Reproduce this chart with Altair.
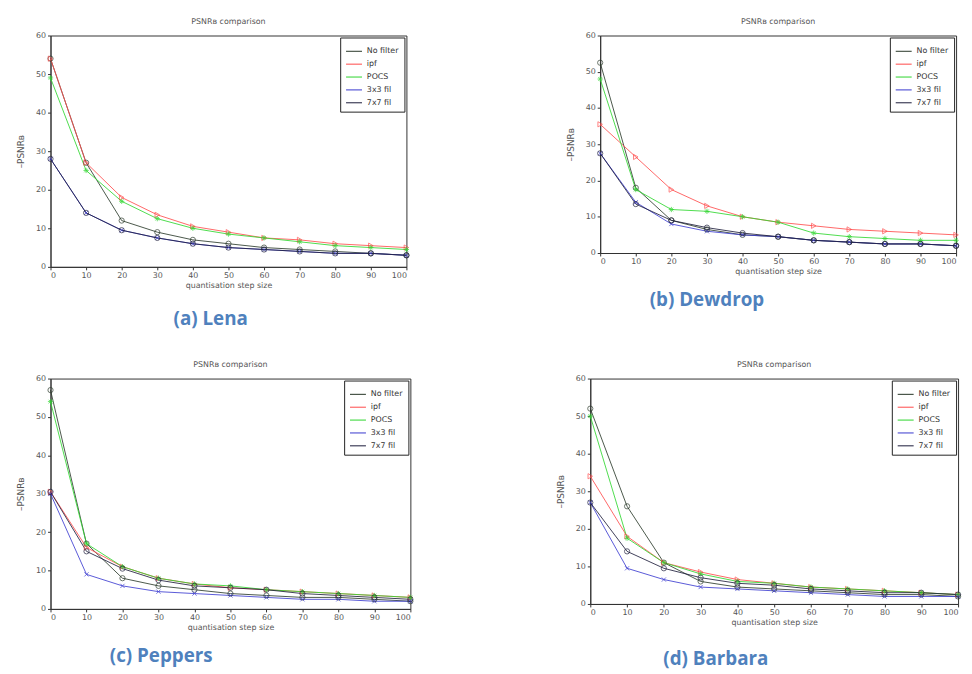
import altair as alt
import pandas as pd

steps = [0, 10, 20, 30, 40, 50, 60, 70, 80, 90, 100]
series_names = ["No filter", "ipf", "POCS", "3x3 fil", "7x7 fil"]
series_colors = ["#2b3a2b", "#ff4c4c", "#2fd62f", "#3b3bd0", "#1e1e3c"]
series_shapes = ["circle", "triangle-right", "M-1,0L1,0M0,-1L0,1M-0.7,-0.7L0.7,0.7M-0.7,0.7L0.7,-0.7",
                 "M-0.8,-0.8L0.8,0.8M-0.8,0.8L0.8,-0.8", "circle"]

# (a) Lena
lena_nofilter = [54, 27, 12, 9, 7, 6, 5, 4.5, 4, 3.5, 3]
lena_ipf = [54, 27, 18, 13.5, 10.5, 9, 7.5, 7, 6, 5.5, 5]
lena_pocs = [49, 25, 17, 12.5, 10, 8.5, 7.5, 6.5, 5.5, 5, 4.5]
lena_3x3 = [28, 14, 9.5, 7.5, 6, 5, 4.5, 4, 3.5, 3.5, 3]
lena_7x7 = [28, 14, 9.5, 7.5, 6, 5, 4.5, 4, 3.5, 3.5, 3]

# (b) Dewdrop
dew_nofilter = [52.5, 18, 9, 6.5, 5, 4.5, 3.5, 3, 2.5, 2.5, 2]
dew_ipf = [35.5, 26.5, 17.5, 13, 10, 8.5, 7.5, 6.5, 6, 5.5, 5]
dew_pocs = [48, 17.5, 12, 11.5, 10, 8.5, 5.5, 4.5, 4, 3.5, 3.5]
dew_3x3 = [27.5, 14, 8, 6, 5, 4.5, 3.5, 3, 2.5, 2.5, 2]
dew_7x7 = [27.5, 13.5, 9, 7, 5.5, 4.5, 3.5, 3, 2.5, 2.5, 2]

# (c) Peppers
pep_nofilter = [57, 17, 8, 6, 5, 4, 3.5, 3, 3, 2.5, 2]
pep_ipf = [30.5, 16, 11, 8, 6.5, 5.5, 5, 4.5, 4, 3.5, 3]
pep_pocs = [54, 17, 11, 8, 6.5, 6, 5, 4.5, 4, 3.5, 3]
pep_3x3 = [30, 9, 6, 4.5, 4, 3.5, 3, 2.5, 2.5, 2, 2]
pep_7x7 = [30.5, 15, 10.5, 7.5, 6, 5.5, 5, 4, 3.5, 3, 2.5]

# (d) Barbara
bar_nofilter = [52, 26, 11, 6, 4.5, 4, 3.5, 3, 2.5, 2.5, 2]
bar_ipf = [34, 18, 11, 8.5, 6.5, 5.5, 4.5, 4, 3.5, 3, 2.5]
bar_pocs = [50, 17.5, 11, 8, 6, 5.5, 4.5, 4, 3.5, 3, 2.5]
bar_3x3 = [27, 9.5, 6.5, 4.5, 4, 3.5, 3, 2.5, 2, 2, 2]
bar_7x7 = [27, 14, 9.5, 7, 5.5, 5, 4, 3.5, 3, 3, 2.5]

y_ticks = [0, 10, 20, 30, 40, 50, 60]
x_ticks = steps

# caption, series, plot width, plot height, caption x, caption offset below plot
panels = [
    ("(a) Lena", [lena_nofilter, lena_ipf, lena_pocs, lena_3x3, lena_7x7], 360, 234, 162, 53),
    ("(b) Dewdrop", [dew_nofilter, dew_ipf, dew_pocs, dew_3x3, dew_7x7], 360, 220, 108, 48),
    ("(c) Peppers", [pep_nofilter, pep_ipf, pep_pocs, pep_3x3, pep_7x7], 364, 233, 112, 48),
    ("(d) Barbara", [bar_nofilter, bar_ipf, bar_pocs, bar_3x3, bar_7x7], 372, 228, 127, 56),
]

FONT = "DejaVu Sans"
GRAY = "#555555"


def make_panel(caption, values, w, h, cap_x, cap_dy):
    rows = []
    for name, vals in zip(series_names, values):
        for s, v in zip(steps, vals):
            rows.append({"step": s, "value": v, "series": name, "marker": name})
    df = pd.DataFrame(rows)
    line_color = alt.Color("series:N", scale=alt.Scale(domain=series_names, range=series_colors),
                           legend=alt.Legend(title=None, orient="top-right", offset=2,
                                             fillColor="white", strokeColor="#222222",
                                             padding=5, labelFont=FONT, labelFontSize=8,
                                             labelColor="#333333", symbolSize=260,
                                             symbolStrokeWidth=1.2, symbolType="stroke",
                                             rowPadding=-3, labelLimit=60, labelOffset=4))
    point_color = alt.Color("marker:N", scale=alt.Scale(domain=series_names, range=series_colors),
                            legend=None)
    shape = alt.Shape("marker:N", scale=alt.Scale(domain=series_names, range=series_shapes), legend=None)
    x = alt.X("step:Q", scale=alt.Scale(domain=[0, 100], nice=False),
              axis=alt.Axis(values=x_ticks, title="quantisation step size", grid=False,
                            labelFont=FONT, labelFontSize=8, labelColor=GRAY,
                            titleFont=FONT, titleFontSize=8, titleColor=GRAY,
                            titleFontWeight="normal", titlePadding=2,
                            tickSize=3, domainColor="#333333", tickColor="#333333"))
    y = alt.Y("value:Q", scale=alt.Scale(domain=[0, 60], nice=False),
              axis=alt.Axis(values=y_ticks, title="–PSNRʙ", grid=False,
                            labelFont=FONT, labelFontSize=8, labelColor=GRAY,
                            titleFont=FONT, titleFontSize=9, titleColor=GRAY,
                            titleFontWeight="normal", titlePadding=10,
                            tickSize=3, domainColor="#333333", tickColor="#333333"))
    base = alt.Chart(df)
    lines = base.mark_line(strokeWidth=1, opacity=0.85).encode(x=x, y=y, color=line_color)
    points = base.mark_point(size=28, filled=False, strokeWidth=1).encode(
        x=x, y=y, color=point_color, shape=shape)
    cap = alt.Chart(pd.DataFrame({"t": [caption]})).mark_text(
        font="Open Sans", fontSize=19, fontWeight="bold", color="#4f81bd", align="center"
    ).encode(text="t:N", x=alt.value(cap_x), y=alt.value(h + cap_dy))
    return alt.layer(lines, points, cap).resolve_scale(
        color="independent", shape="independent"
    ).properties(
        width=w, height=h,
        title=alt.TitleParams("PSNRʙ comparison", font=FONT, fontSize=8, color=GRAY,
                              fontWeight="normal", offset=6)
    )


pa = make_panel(*panels[0])
pb = make_panel(*panels[1])
pc = make_panel(*panels[2])
pd_ = make_panel(*panels[3])

row1 = alt.hconcat(pa, pb, spacing=155).resolve_scale(color="independent", shape="independent")
row2 = alt.hconcat(pc, pd_, spacing=141).resolve_scale(color="independent", shape="independent")
chart = alt.vconcat(row1, row2, spacing=30).resolve_scale(
    color="independent", shape="independent"
).configure_view(
    stroke="#333333", strokeWidth=1
).properties(background="white", padding={"left": 8, "top": 5, "right": 0, "bottom": 0})

chart.save("out.html", embed_options={"renderer": "svg", "actions": False})
